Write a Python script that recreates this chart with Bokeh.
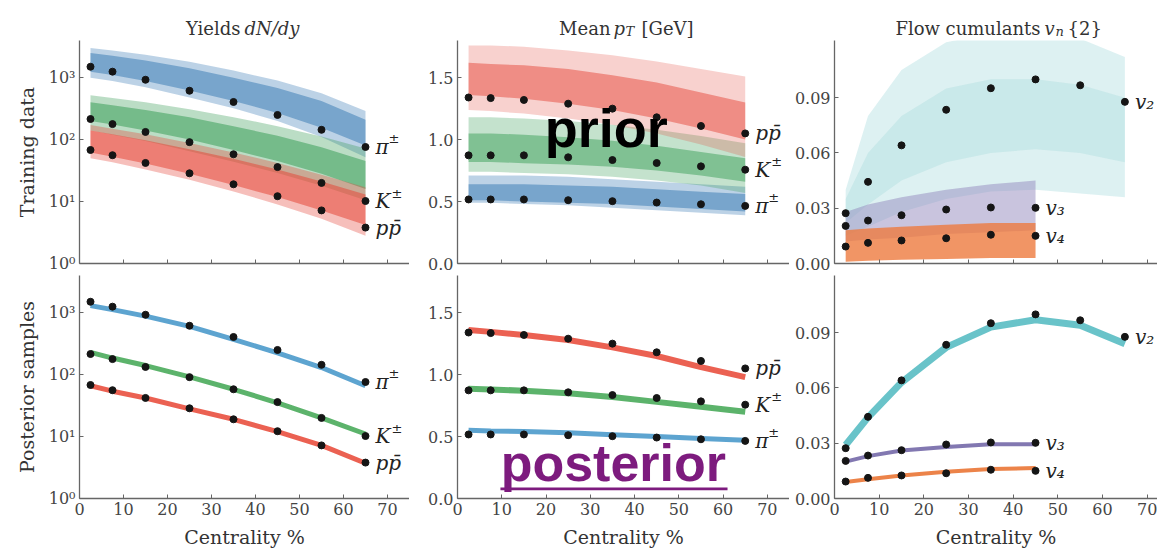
from bokeh.plotting import figure
from bokeh.layouts import column, row
from bokeh.models import Label, FixedTicker, BoxAnnotation, Range1d
from bokeh.core.properties import value
from bokeh.embed import file_html
from bokeh.resources import INLINE

# ---------------- data ----------------
centrality = [2.5, 7.5, 15, 25, 35, 45, 55, 65]
centrality_v34 = [2.5, 7.5, 15, 25, 35, 45]
x_ticks = [0, 10, 20, 30, 40, 50, 60, 70]

# measured (training) data
dndy_pion = [1500, 1250, 925, 615, 405, 250, 144, 76]
dndy_kaon = [215, 178, 133, 91, 58, 36, 20, 10.2]
dndy_proton = [68, 56, 42, 28.6, 19, 12.2, 7.2, 3.8]
mpt_pion = [0.517, 0.517, 0.517, 0.511, 0.503, 0.492, 0.478, 0.465]
mpt_kaon = [0.873, 0.873, 0.873, 0.857, 0.835, 0.811, 0.784, 0.757]
mpt_proton = [1.34, 1.335, 1.32, 1.29, 1.25, 1.18, 1.11, 1.05]
v2_data = [0.0273, 0.0443, 0.0641, 0.0834, 0.0951, 0.0999, 0.0967, 0.0877]
v3_data = [0.0204, 0.0233, 0.0262, 0.0293, 0.0304, 0.0302]
v4_data = [0.0092, 0.0112, 0.0125, 0.0137, 0.0156, 0.0150]

# prior design envelopes (outer = all curves, inner = dense core)
prior_dndy_pion_outer_lo = [1000, 880, 700, 480, 320, 200, 110, 52]
prior_dndy_pion_outer_hi = [3000, 2750, 2350, 1800, 1300, 900, 560, 290]
prior_dndy_pion_inner_lo = [1250, 1100, 880, 620, 420, 270, 155, 80]
prior_dndy_pion_inner_hi = [2500, 2250, 1900, 1420, 1000, 680, 420, 210]
prior_dndy_kaon_outer_lo = [140, 120, 95, 65, 44, 29, 18, 10.5]
prior_dndy_kaon_outer_hi = [520, 470, 400, 310, 230, 165, 112, 72]
prior_dndy_kaon_inner_lo = [200, 175, 140, 100, 68, 45, 28, 16]
prior_dndy_kaon_inner_hi = [400, 360, 300, 230, 165, 115, 75, 45]
prior_dndy_proton_outer_lo = [50, 43, 33, 22.5, 14.5, 9, 5.3, 2.8]
prior_dndy_proton_outer_hi = [172, 150, 122, 88, 62, 42, 27, 17]
prior_dndy_proton_inner_lo = [62, 53, 41, 28, 18.5, 11.8, 7.2, 4.2]
prior_dndy_proton_inner_hi = [140, 122, 98, 70, 49, 33, 21, 13]

prior_mpt_proton_outer_lo = [1.24, 1.23, 1.21, 1.17, 1.12, 1.05, 0.96, 0.86]
prior_mpt_proton_outer_hi = [1.76, 1.76, 1.75, 1.72, 1.68, 1.63, 1.57, 1.51]
prior_mpt_proton_inner_lo = [1.36, 1.35, 1.33, 1.29, 1.24, 1.17, 1.09, 1.00]
prior_mpt_proton_inner_hi = [1.62, 1.61, 1.60, 1.57, 1.52, 1.46, 1.38, 1.30]
prior_mpt_kaon_outer_lo = [0.74, 0.74, 0.73, 0.72, 0.70, 0.67, 0.63, 0.57]
prior_mpt_kaon_outer_hi = [1.18, 1.18, 1.17, 1.15, 1.12, 1.08, 1.03, 0.97]
prior_mpt_kaon_inner_lo = [0.82, 0.82, 0.81, 0.80, 0.78, 0.75, 0.71, 0.66]
prior_mpt_kaon_inner_hi = [1.05, 1.05, 1.04, 1.02, 0.99, 0.95, 0.90, 0.85]
prior_mpt_pion_outer_lo = [0.49, 0.49, 0.48, 0.47, 0.45, 0.43, 0.41, 0.39]
prior_mpt_pion_outer_hi = [0.71, 0.71, 0.71, 0.70, 0.68, 0.66, 0.64, 0.62]
prior_mpt_pion_inner_lo = [0.51, 0.51, 0.50, 0.49, 0.48, 0.46, 0.44, 0.42]
prior_mpt_pion_inner_hi = [0.64, 0.64, 0.64, 0.63, 0.62, 0.60, 0.58, 0.56]

prior_v2_outer_lo = [0.015, 0.020, 0.028, 0.035, 0.039, 0.040, 0.038, 0.036]
prior_v2_outer_hi = [0.040, 0.080, 0.105, 0.120, 0.125, 0.126, 0.122, 0.112]
prior_v2_inner_lo = [0.022, 0.032, 0.045, 0.055, 0.060, 0.062, 0.060, 0.055]
prior_v2_inner_hi = [0.035, 0.060, 0.080, 0.095, 0.100, 0.100, 0.097, 0.090]
prior_v3_outer_lo = [0.012, 0.013, 0.014, 0.016, 0.017, 0.018]
prior_v3_outer_hi = [0.028, 0.032, 0.036, 0.040, 0.043, 0.045]
prior_v4_outer_lo = [0.001, 0.0015, 0.002, 0.0025, 0.003, 0.003]
prior_v4_outer_hi = [0.018, 0.019, 0.020, 0.021, 0.022, 0.022]

# posterior predictions
post_dndy_pion = [1300, 1120, 880, 600, 370, 225, 130, 66]
post_dndy_kaon = [228, 185, 140, 92, 58, 35, 20, 11]
post_dndy_proton = [66, 54, 42, 28, 19, 12, 7.2, 3.7]
post_mpt_proton = [1.36, 1.345, 1.32, 1.28, 1.22, 1.15, 1.06, 0.98]
post_mpt_kaon = [0.885, 0.88, 0.87, 0.85, 0.82, 0.78, 0.74, 0.70]
post_mpt_pion = [0.55, 0.545, 0.54, 0.53, 0.515, 0.50, 0.485, 0.47]
post_v2 = [0.029, 0.044, 0.063, 0.082, 0.093, 0.097, 0.094, 0.084]
post_v3 = [0.020, 0.023, 0.026, 0.028, 0.0295, 0.0295]
post_v4 = [0.009, 0.0105, 0.0125, 0.0145, 0.016, 0.0165]

log_ticks = [1, 10, 100, 1000]
log_tick_labels = ["10\u2070", "10\u00b9", "10\u00b2", "10\u00b3"]
mpt_ticks = [0, 0.5, 1.0, 1.5]
mpt_tick_labels = ["0.0", "0.5", "1.0", "1.5"]
vn_ticks = [0, 0.03, 0.06, 0.09]
vn_tick_labels = ["0.00", "0.03", "0.06", "0.09"]

# ---------------- style ----------------
FONT = "DejaVu Serif"
AXC = "#666666"
TXT = "#444444"
BLUE, GREEN, RED = "#3f7fb7", "#3c9f5a", "#e5493b"
TEAL, PURPLE, ORANGE = "#86cccf", "#9489bd", "#ee7b3e"
BLUE_L, GREEN_L, RED_L = "#4b9acb", "#4aab5b", "#e9503f"
TEAL_L, PURPLE_L, ORANGE_L = "#4fb8bf", "#7469a8", "#ea7535"
TOTAL_W = 1157
TITLE_H = 40


def make_fig(width, height, xmax, yr, log, left, bottom, ticks, labels, xlabels):
    p = figure(width=width, height=height, x_range=Range1d(0, xmax), y_range=Range1d(*yr),
               y_axis_type="log" if log else "linear", output_backend="svg",
               toolbar_location=None, min_border_left=left, min_border_right=0,
               min_border_top=0, min_border_bottom=bottom)
    p.outline_line_color = None
    p.grid.visible = False
    p.background_fill_color = "white"
    p.border_fill_color = "white"
    for ax in (p.xaxis[0], p.yaxis[0]):
        ax.axis_line_color = AXC
        ax.axis_line_width = 1.3
        ax.major_tick_line_color = AXC
        ax.major_tick_in = 4
        ax.major_tick_out = 0
        ax.minor_tick_line_color = None
        ax.major_label_text_font = FONT
        ax.major_label_text_font_size = "16px"
        ax.major_label_text_color = TXT
        ax.axis_label_text_font = FONT
        ax.axis_label_text_font_style = "normal"
        ax.axis_label_text_font_size = "19px"
        ax.axis_label_text_color = "#333333"
    p.xaxis.ticker = FixedTicker(ticks=x_ticks)
    p.yaxis.ticker = FixedTicker(ticks=ticks)
    p.yaxis.major_label_overrides = {t: l for t, l in zip(ticks, labels)}
    p.yaxis.major_label_standoff = 4
    if xlabels:
        p.xaxis.major_label_standoff = 4
        p.xaxis.axis_label = "Centrality %"
        p.xaxis.axis_label_standoff = 8
    else:
        p.xaxis.major_label_overrides = {t: "" for t in x_ticks}
        p.xaxis.major_label_standoff = 0
    return p


def band(p, x, lo, hi, color, alpha):
    p.varea(x=x, y1=lo, y2=hi, fill_color=color, fill_alpha=alpha)


def points(p, x, y):
    p.scatter(x=x, y=y, size=7, color="#151515")


def tag(p, x, y, main, sup=None, sup_dx=0):
    p.text(x=[x], y=[y], text=[main], x_offset=10, text_baseline="middle",
           text_font=value(FONT), text_font_style="italic",
           text_font_size="20px", text_color="#222222")
    if sup:
        p.text(x=[x], y=[y], text=[sup], x_offset=10 + sup_dx, y_offset=-8,
               text_baseline="middle", text_font=value(FONT), text_font_size="13px",
               text_color="#222222")


# ---------- title strip (coordinates = page pixels, y measured upward) ----------
pt = figure(width=TOTAL_W, height=TITLE_H, x_range=Range1d(0, TOTAL_W), y_range=Range1d(0, TITLE_H),
            output_backend="svg", toolbar_location=None, x_axis_location=None,
            y_axis_location=None, min_border=0)
pt.outline_line_color = None
pt.grid.visible = False


def title_piece(x, y, text, align, italic=False, size="18px"):
    pt.add_layout(Label(x=x, y=y, text=text, text_align=align, text_baseline="alphabetic",
                        text_font=FONT, text_font_style="italic" if italic else "normal",
                        text_font_size=size, text_color="#333333"))


title_piece(240, 12, "Yields", "right")
title_piece(244, 12, "dN/dy", "left", italic=True)
title_piece(610, 12, "Mean", "right")
title_piece(613, 12, "p", "left", italic=True)
title_piece(625, 9, "T", "left", italic=True, size="13px")
title_piece(641, 12, "[GeV]", "left")
title_piece(1040, 12, "Flow cumulants", "right")
title_piece(1044, 12, "v", "left", italic=True)
title_piece(1055, 9, "n", "left", italic=True, size="13px")
title_piece(1067, 12, "{2}", "left")

TOP_H, BOT_H = 235, 277

# ---------- yields ----------
def yields_fig(top):
    p = make_fig(409, TOP_H if top else BOT_H, 75, (1, 3981), True, 79,
                 12 if top else 54, log_ticks, log_tick_labels, not top)
    p.yaxis.axis_label = "Training data" if top else "Posterior samples"
    p.yaxis.axis_label_standoff = 8
    return p

p11 = yields_fig(True)
band(p11, centrality, prior_dndy_pion_outer_lo, prior_dndy_pion_outer_hi, BLUE, 0.35)
band(p11, centrality, prior_dndy_pion_inner_lo, prior_dndy_pion_inner_hi, BLUE, 0.55)
band(p11, centrality, prior_dndy_kaon_outer_lo, prior_dndy_kaon_outer_hi, GREEN, 0.35)
band(p11, centrality, prior_dndy_kaon_inner_lo, prior_dndy_kaon_inner_hi, GREEN, 0.55)
band(p11, centrality, prior_dndy_proton_outer_lo, prior_dndy_proton_outer_hi, RED, 0.35)
band(p11, centrality, prior_dndy_proton_inner_lo, prior_dndy_proton_inner_hi, RED, 0.55)

p21 = yields_fig(False)
p21.line(centrality, post_dndy_pion, line_width=5, color=BLUE_L, alpha=0.9)
p21.line(centrality, post_dndy_kaon, line_width=5, color=GREEN_L, alpha=0.9)
p21.line(centrality, post_dndy_proton, line_width=5, color=RED_L, alpha=0.9)

for p in (p11, p21):
    points(p, centrality, dndy_pion)
    points(p, centrality, dndy_kaon)
    points(p, centrality, dndy_proton)
    tag(p, centrality[-1], dndy_pion[-1], "\u03c0", "\u00b1", 13)
    tag(p, centrality[-1], dndy_kaon[-1], "K", "\u00b1", 16)
    tag(p, centrality[-1], dndy_proton[-1], "pp\u0304")

# ---------- mean pT ----------
def mpt_fig(top):
    return make_fig(380, TOP_H if top else BOT_H, 75, (0, 1.8), False, 48,
                    12 if top else 54, mpt_ticks, mpt_tick_labels, not top)

p12 = mpt_fig(True)
band(p12, centrality, prior_mpt_pion_outer_lo, prior_mpt_pion_outer_hi, BLUE, 0.35)
band(p12, centrality, prior_mpt_pion_inner_lo, prior_mpt_pion_inner_hi, BLUE, 0.55)
band(p12, centrality, prior_mpt_kaon_outer_lo, prior_mpt_kaon_outer_hi, GREEN, 0.3)
band(p12, centrality, prior_mpt_kaon_inner_lo, prior_mpt_kaon_inner_hi, GREEN, 0.5)
band(p12, centrality, prior_mpt_proton_outer_lo, prior_mpt_proton_outer_hi, RED, 0.25)
band(p12, centrality, prior_mpt_proton_inner_lo, prior_mpt_proton_inner_hi, RED, 0.5)
p12.add_layout(Label(x=33.6, y=1.09, text="prior",
                     text_align="center", text_baseline="alphabetic",
                     text_font="Liberation Sans", text_font_style="bold",
                     text_font_size="54px", text_color="#000000"))

p22 = mpt_fig(False)
p22.line(centrality, post_mpt_proton, line_width=6, color=RED_L, alpha=0.9)
p22.line(centrality, post_mpt_kaon, line_width=6, color=GREEN_L, alpha=0.9)
p22.line(centrality, post_mpt_pion, line_width=5, color=BLUE_L, alpha=0.9)
p22.add_layout(Label(x=35.2, y=0.29, text="posterior",
                     text_align="center", text_baseline="alphabetic",
                     text_font="Liberation Sans", text_font_style="bold",
                     text_font_size="52px", text_color="#7d1b7e"))
p22.add_layout(BoxAnnotation(left=9.7, right=61.0, bottom=0.066, top=0.088,
                             fill_color="#7d1b7e", fill_alpha=1, line_color=None))

for p in (p12, p22):
    points(p, centrality, mpt_proton)
    points(p, centrality, mpt_kaon)
    points(p, centrality, mpt_pion)
    tag(p, centrality[-1], mpt_proton[-1], "pp\u0304")
    tag(p, centrality[-1], mpt_kaon[-1], "K", "\u00b1", 16)
    tag(p, centrality[-1], mpt_pion[-1], "\u03c0", "\u00b1", 13)

# ---------- flow ----------
def flow_fig(top):
    return make_fig(368, TOP_H if top else BOT_H, 72.3, (0, 0.121), False, 45,
                    12 if top else 54, vn_ticks, vn_tick_labels, not top)

p13 = flow_fig(True)
band(p13, centrality, prior_v2_outer_lo, prior_v2_outer_hi, TEAL, 0.28)
band(p13, centrality, prior_v2_inner_lo, prior_v2_inner_hi, TEAL, 0.22)
band(p13, centrality_v34, prior_v3_outer_lo, prior_v3_outer_hi, PURPLE, 0.5)
band(p13, centrality_v34, prior_v4_outer_lo, prior_v4_outer_hi, ORANGE, 0.8)

p23 = flow_fig(False)
p23.line(centrality, post_v2, line_width=7, color=TEAL_L, alpha=0.85)
p23.line(centrality_v34, post_v3, line_width=4, color=PURPLE_L, alpha=0.9)
p23.line(centrality_v34, post_v4, line_width=4, color=ORANGE_L, alpha=0.9)

for p in (p13, p23):
    points(p, centrality, v2_data)
    points(p, centrality_v34, v3_data)
    points(p, centrality_v34, v4_data)
    tag(p, centrality[-1], v2_data[-1], "v\u2082")
    tag(p, centrality_v34[-1], v3_data[-1], "v\u2083")
    tag(p, centrality_v34[-1], v4_data[-1], "v\u2084")

layout = column(pt, row(p11, p12, p13), row(p21, p22, p23))
open("out.html", "w").write(file_html(layout, INLINE))
